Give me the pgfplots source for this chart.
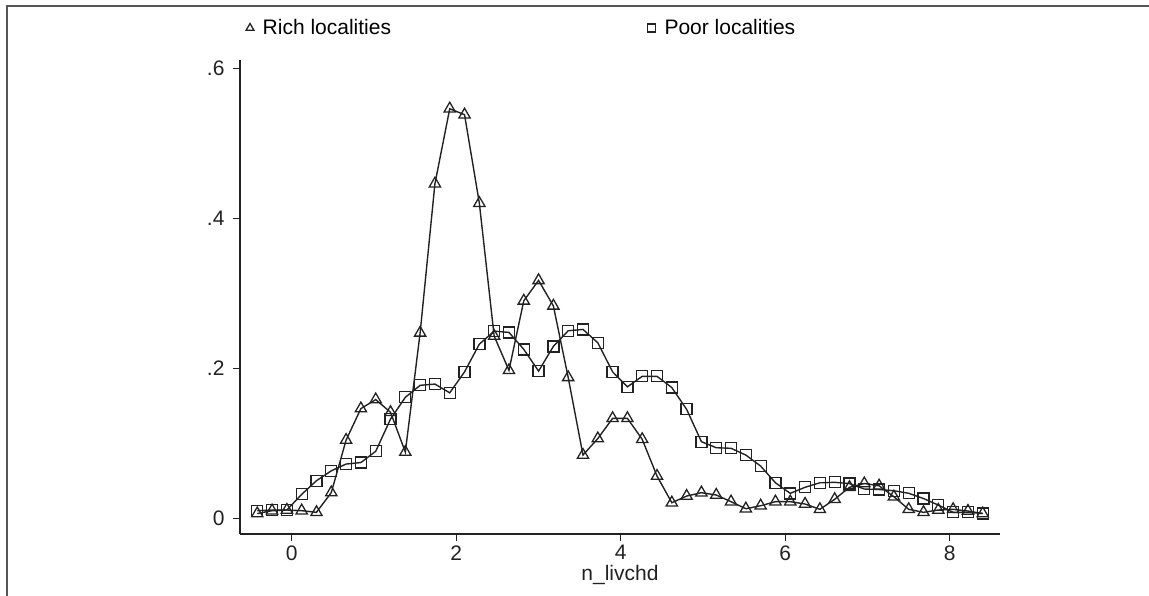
\documentclass[border=0pt]{standalone}
\usepackage{fontspec}
\setmainfont{Liberation Sans}
\usepackage{pgfplots}
\usepackage{pgfplotstable}
\pgfplotsset{compat=1.18}
\pgfplotstableread{
x rich poor
-0.42 0.0060 0.0098
-0.24 0.0098 0.0107
-0.06 0.0107 0.0107
0.12 0.0098 0.0316
0.30 0.0076 0.0498
0.48 0.0340 0.0630
0.66 0.1040 0.0720
0.84 0.1460 0.0740
1.02 0.1580 0.0890
1.20 0.1410 0.1320
1.38 0.0880 0.1610
1.56 0.2470 0.1770
1.74 0.4460 0.1787
1.92 0.5460 0.1670
2.10 0.5380 0.1950
2.28 0.4200 0.2320
2.46 0.2427 0.2493
2.64 0.1970 0.2476
2.82 0.2897 0.2250
3.00 0.3170 0.1960
3.18 0.2830 0.2290
3.36 0.1876 0.2498
3.54 0.0840 0.2516
3.72 0.1060 0.2338
3.90 0.1330 0.1950
4.08 0.1330 0.1750
4.26 0.1050 0.1890
4.44 0.0560 0.1890
4.62 0.0204 0.1740
4.80 0.0293 0.1450
4.98 0.0338 0.1018
5.16 0.0307 0.0938
5.34 0.0218 0.0930
5.52 0.0124 0.0840
5.70 0.0164 0.0693
5.88 0.0218 0.0470
6.06 0.0218 0.0329
6.24 0.0187 0.0410
6.42 0.0116 0.0470
6.60 0.0250 0.0476
6.78 0.0410 0.0460
6.96 0.0460 0.0387
7.14 0.0430 0.0380
7.32 0.0284 0.0364
7.50 0.0116 0.0330
7.68 0.0076 0.0260
7.86 0.0107 0.0173
8.04 0.0116 0.0076
8.22 0.0093 0.0076
8.40 0.0060 0.0060
}\datatable
\definecolor{frame}{HTML}{555555}
\definecolor{ink}{HTML}{222222}
\begin{document}
\begin{tikzpicture}[x=1pt,y=1pt]
\useasboundingbox (0,0) rectangle (1149,596);
\draw[frame, line width=2pt] (7,0) -- (7,589.5) -- (1149,589.5);
\begin{axis}[
  at={(240pt,62pt)}, anchor=south west,
  scale only axis, width=760pt, height=474pt,
  xmin=-0.63, xmax=8.61, ymin=-0.0213, ymax=0.611,
  axis lines=left,
  axis line style={-, line width=1.6pt, color=ink},
  xtick={0,2,4,6,8}, xticklabels={0,2,4,6,8},
  ytick={0,0.2,0.4,0.6}, yticklabels={0,.2,.4,.6},
  tick align=outside, major tick length=7pt,
  tick style={line width=1pt, color=ink},
  ticklabel style={font=\fontsize{21}{25}\selectfont, color=ink},
  yticklabel style={xshift=-5pt},
  xticklabel style={yshift=-1pt},
  xlabel={n\_livchd},
  xlabel style={font=\fontsize{21}{25}\selectfont, color=ink, yshift=2pt},
  legend columns=2,
  legend style={draw=none, fill=none, inner sep=0pt, outer sep=0pt,
    at={(axis description cs:0.007,1.0675)}, anchor=west,
    font=\fontsize{21}{25}\selectfont,
    /tikz/every even column/.append style={column sep=254pt}},
  legend cell align=left,
  clip=false,
]
\addplot[ink, line width=1.4pt, mark=triangle, mark size=6.5pt,
  mark options={solid, line width=1.3pt},
  legend image code/.code={\path (0pt,0pt) (14pt,0pt);\draw[mark size=4.5pt, line width=1pt] plot[only marks, mark=triangle] coordinates {(4pt,0pt)};}]
  table[x=x, y=rich] {\datatable};
\addlegendentry{Rich localities}
\addplot[ink, line width=1.4pt, mark=square, mark size=5.5pt,
  mark options={solid, line width=1.3pt},
  legend image code/.code={\path (0pt,0pt) (14pt,0pt);\draw[mark size=4pt, line width=1pt] plot[only marks, mark=square] coordinates {(4pt,0pt)};}]
  table[x=x, y=poor] {\datatable};
\addlegendentry{Poor localities}
\end{axis}
\end{tikzpicture}
\end{document}
